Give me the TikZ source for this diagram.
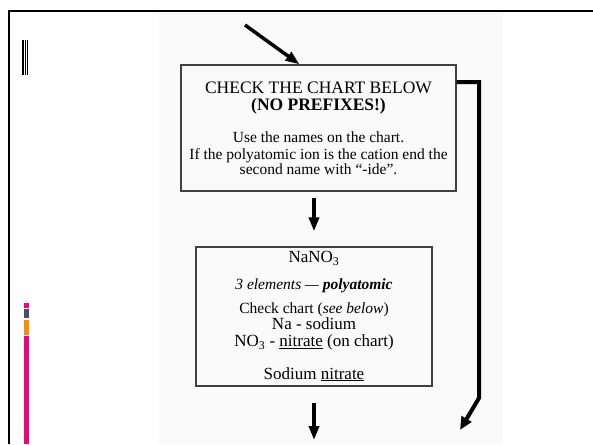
\documentclass[tikz,border=0pt]{standalone}
\usepackage{fontspec}
\setmainfont{Liberation Serif}
\usetikzlibrary{arrows.meta}

\newcommand{\headsize}{\fontsize{17.5}{17}\selectfont}
\newcommand{\bodysize}{\fontsize{15.5}{16}\selectfont}
\newcommand{\bigsize}{\fontsize{17}{14}\selectfont}

\tikzset{
  chartbox/.style={draw=black!75, line width=1.3pt, align=center, inner sep=0pt},
  flowarrow/.style={line width=3.5pt, -{Triangle[length=14pt, width=10pt]}},
  skiparrow/.style={line width=4pt, -{Triangle[length=13pt, width=11pt]}}
}

\begin{document}
\begin{tikzpicture}[x=1pt, y=-1pt]
  \useasboundingbox (0,0) rectangle (593,444);
  % page background and frame
  \fill[black!2] (159,13) rectangle (503,444);
  \draw[line width=2.5pt] (593,11) -- (9,11) -- (9,444);
  % marks in the margin
  \fill (22,40) rectangle (23.5,75);
  \fill (24.5,40) rectangle (26,75);
  \fill (26.5,40) rectangle (28,75);
  \fill[magenta!90!red] (24,303) rectangle (29,308);
  \fill[black!65!blue!40!gray] (24,309) rectangle (29,318);
  \fill[orange!90!yellow] (24,320) rectangle (29,335);
  \fill[magenta!90!red] (24,336) rectangle (29,444);

  % the two boxes
  \node[chartbox, font=\fontsize{15.5}{16.5}\selectfont,
        minimum width=275pt, minimum height=126pt] (check) at (318.5,128)
    {{\headsize CHECK THE CHART BELOW}\\[0.5pt]
     {\headsize\bfseries (NO PREFIXES!)}\\[16pt]
     {\bodysize Use the names on the chart.}\\
     {\bodysize If the polyatomic ion is the cation end the}\\[-1.5pt]
     {\bodysize second name with “-ide”.}};
  \node[chartbox, font=\fontsize{15.5}{14}\selectfont,
        minimum width=236pt, minimum height=139pt] (sample) at (314,316.5)
    {{\bigsize NaNO\textsubscript{3}}\\[13pt]
     {\bodysize\itshape 3 elements — \textbf{polyatomic}}\\[8pt]
     {\bodysize Check chart (\textit{see below})}\\
     {\bigsize Na - sodium}\\[3.5pt]
     {\bigsize NO\textsubscript{3} - \underline{nitrate} (on chart)}\\[16pt]
     {\bigsize Sodium \underline{nitrate}}};

  % connectors
  \coordinate (entry) at (245,25);
  \coordinate (next) at (314,440);
  \coordinate (skip) at (460,430);
  \draw[flowarrow] (entry) -- ([xshift=-19pt]check.north);
  \draw[flowarrow] ([yshift=-6pt]check.south -| sample.north) -- ([yshift=15pt]sample.north);
  \draw[flowarrow] ([yshift=-16pt]sample.south) -- (next);
  \draw[skiparrow] ([yshift=46pt]check.east) -| (479,398) -- (skip);
\end{tikzpicture}
\end{document}
